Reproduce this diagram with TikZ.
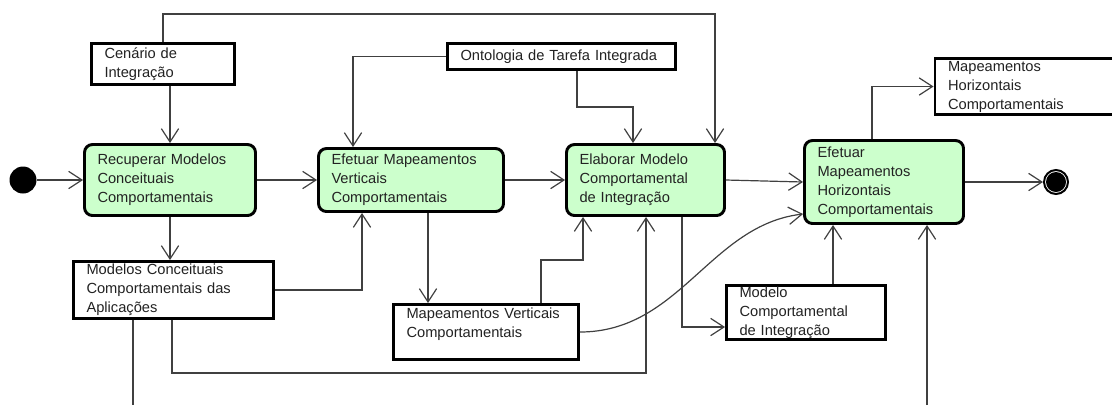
\documentclass[tikz,border=0pt]{standalone}
\usepackage{fontspec}
\setmainfont{Liberation Sans}
\usetikzlibrary{arrows.meta}
\definecolor{actfill}{HTML}{CCFFCC}
\definecolor{wire}{HTML}{404040}
\definecolor{ink}{HTML}{222222}

\begin{document}
\begin{tikzpicture}[x=0.75pt,y=-0.75pt,
  txt/.style={font=\fontsize{11}{14.25}\selectfont, text=ink},
  act/.style={txt, draw=black, line width=2.2pt, fill=actfill, rounded corners=6pt,
              align=left, inner xsep=9.75pt, inner ysep=0pt},
  obj/.style={txt, draw=black, line width=2.2pt, fill=white,
              align=left, inner xsep=9.75pt, inner ysep=0pt},
  conn/.style={draw=wire, line width=0.9pt, -{Straight Barb[length=10pt,width=13pt]}},
  wireline/.style={draw=wire, line width=0.9pt},
]
\useasboundingbox (0,0) rectangle (1112,405);

% initial and final states
\node[circle, fill=black, minimum size=20.25pt, inner sep=0pt] (start) at (23,180) {};
\node[circle, draw=black, line width=1.5pt, minimum size=18pt, inner sep=0pt,
      path picture={\fill[black] (path picture bounding box.center) circle (7.5pt);}]
      (end) at (1056,182) {};

% activities
\node[act, minimum width=128.25pt, minimum height=53.25pt, text width=108.75pt] (rec) at (170,180)
  {Recuperar Modelos\\Conceituais\\Comportamentais};
\node[act, minimum width=138.75pt, minimum height=47.25pt, text width=119.25pt] (ver) at (411,180)
  {Efetuar Mapeamentos\\Verticais\\Comportamentais};
\node[act, minimum width=118.5pt, minimum height=53.25pt, text width=99pt] (ela) at (645.5,180)
  {Elaborar Modelo\\Comportamental\\de Integração};
\node[act, minimum width=119.25pt, minimum height=62.25pt, text width=99.75pt] (hor) at (884,182)
  {Efetuar\\Mapeamentos\\Horizontais\\Comportamentais};

% objects
\node[obj, minimum width=107.25pt, minimum height=30.75pt, text width=87.75pt] (cen) at (163,64)
  {Cenário de\\Integração};
\node[obj, minimum width=171pt, minimum height=19.5pt, text width=151.5pt] (ont) at (561.5,56.5)
  {Ontologia de Tarefa Integrada};
\node[obj, minimum width=142.5pt, minimum height=42pt, text width=123pt] (mhc) at (1030,86.5)
  {Mapeamentos\\Horizontais\\Comportamentais};
\node[obj, minimum width=150pt, minimum height=42.75pt, text width=130.5pt] (mca) at (173.5,290)
  {Modelos Conceituais\\Comportamentais das\\Aplicações};
\node[obj, minimum width=138.75pt, minimum height=41.25pt, text width=119.25pt] (mvc) at (486,332)
  {Mapeamentos Verticais\\Comportamentais\\\mbox{}};
\node[obj, minimum width=119.25pt, minimum height=40.5pt, text width=99.75pt] (mci) at (806,312.5)
  {Modelo\\Comportamental\\de Integração};

% bend points and free ends
\coordinate (topbend) at (715,14);
\coordinate (ontbend) at (633,107);
\coordinate (lowbend) at (646,373);
\coordinate (mvcbend) at (583,260);
\coordinate (exitA) at (133,405);
\coordinate (entryB) at (927,405);

% control flow
\draw[conn] (start.east) -- (rec.west);
\draw[conn] (rec.east) -- (ver.west);
\draw[conn] (ver.east) -- (ela.west);
\draw[conn] (ela.east) -- (hor.west);
\draw[conn] (hor.east) -- (end.west);

% object flow
\draw[conn] (cen.south -| rec.north) -- (rec.north);
\draw[conn] (cen.north) |- (topbend) -- (topbend |- ela.north);
\draw[conn] (ont.west) -| (353,0 |- ver.north);
\draw[conn] (577,0 |- ont.south) |- (ontbend) -- (ontbend |- ela.north);
\draw[conn] (872,0 |- hor.north) |- (mhc.west);
\draw[conn] (rec.south) -- (rec.south |- mca.north);
\draw[conn] (mca.east) -| (362,0 |- ver.south);
\draw[conn] (172,0 |- mca.south) |- (lowbend) -- (lowbend |- ela.south);
\draw[wireline] (133,0 |- mca.south) -- (exitA);
\draw[conn] (428,0 |- ver.south) -- (428,0 |- mvc.north);
\draw[conn] (541,0 |- mvc.north) |- (mvcbend) -- (mvcbend |- ela.south);
\draw[conn] (mvc.east) .. controls (680,332) and (710,225) .. (hor.west |- 0,214);
\draw[conn] (682,0 |- ela.south) |- (mci.west |- 0,327);
\draw[conn] (833,0 |- mci.north) -- (833,0 |- hor.south);
\draw[conn] (entryB) -- (entryB |- hor.south);
\end{tikzpicture}
\end{document}
